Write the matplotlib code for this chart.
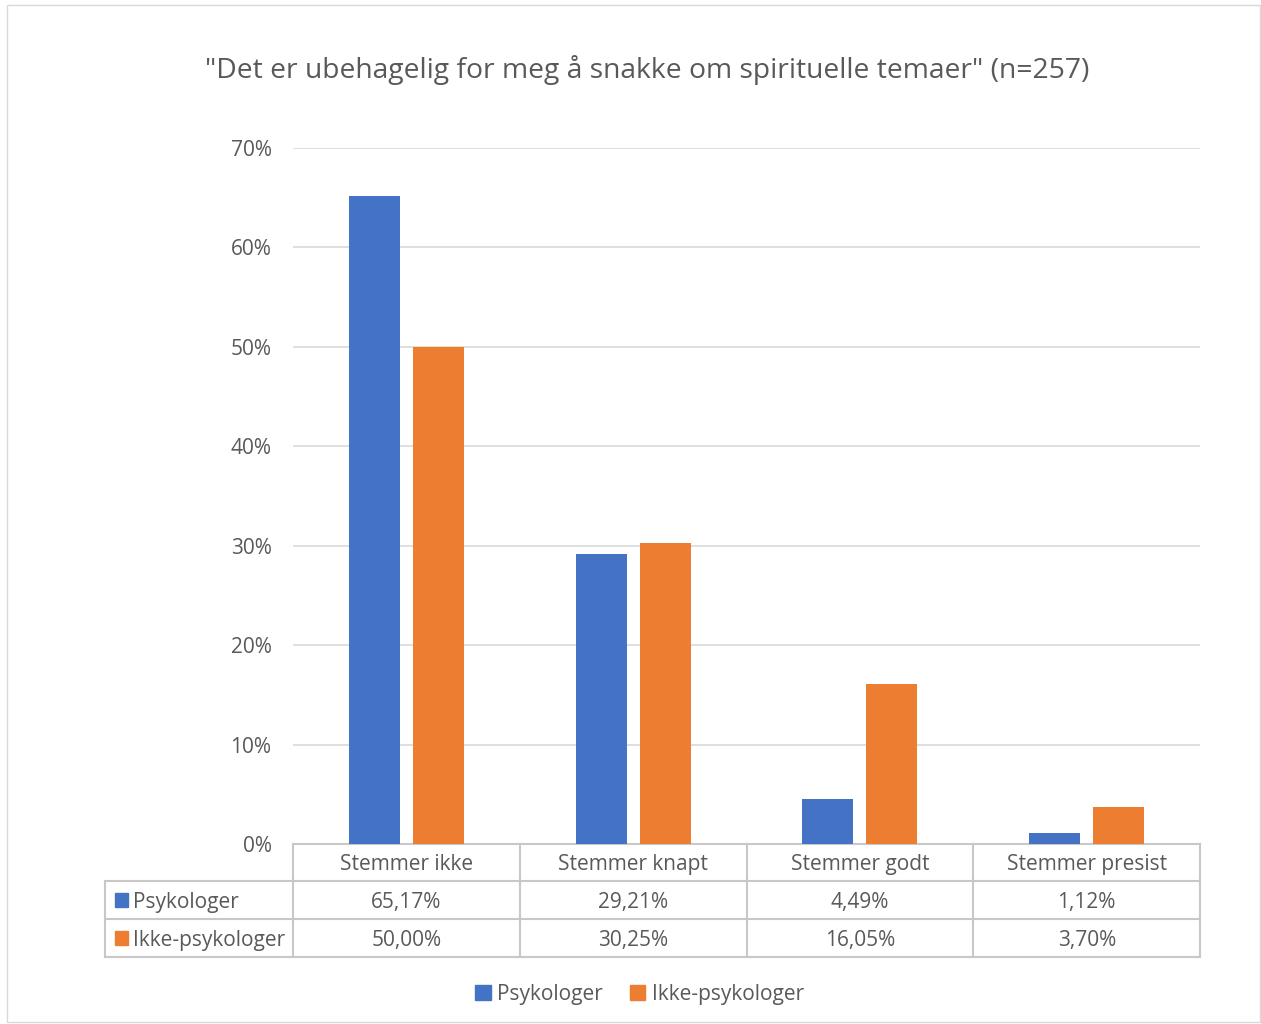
import matplotlib.pyplot as plt
import numpy as np
from matplotlib.lines import Line2D
from matplotlib.patches import Rectangle
from matplotlib.transforms import blended_transform_factory

plt.rcParams["font.family"] = ["Open Sans", "DejaVu Sans"]

CATEGORIES = ["Stemmer ikke", "Stemmer knapt", "Stemmer godt", "Stemmer presist"]
SERIES = ["Psykologer", "Ikke-psykologer"]
PSYK = [65.17, 29.21, 4.49, 1.12]
IKKE = [50.00, 30.25, 16.05, 3.70]
YTICKS = [0, 10, 20, 30, 40, 50, 60, 70]
COLORS = ["#4472C4", "#ED7D31"]
TXT = "#595959"
GRID = "#D9D9D9"
LINE = "#C8C8C8"

fig = plt.figure(figsize=(12.61, 10.24), dpi=100)
fig.add_artist(Rectangle((0.0055, 0.002), 0.9935, 0.993, transform=fig.transFigure,
                         fill=False, edgecolor="#D9D9D9", linewidth=1))

ax = fig.add_axes([0.2324, 0.1758, 0.7193, 0.6797])
x = np.arange(len(CATEGORIES))
w = 0.225
off = 0.141
ax.bar(x - off, PSYK, w, color=COLORS[0], zorder=3)
ax.bar(x + off, IKKE, w, color=COLORS[1], zorder=3)

ax.set_xlim(-0.5, len(CATEGORIES) - 0.5)
ax.set_ylim(0, 70)
ax.set_yticks(YTICKS)
ax.set_yticklabels([f"{t}%" for t in YTICKS], color=TXT, fontsize=15)
ax.tick_params(axis="y", length=0, pad=15.5)
ax.set_xticks([])
ax.grid(axis="y", color=GRID, linewidth=1.2, zorder=0)
for s in ax.spines.values():
    s.set_visible(False)

fig.text(0.513, 0.932, '"Det er ubehagelig for meg å snakke om spirituelle temaer" (n=257)',
         ha="center", va="center", fontsize=20.3, color=TXT)

# data table under the axis
tr = blended_transform_factory(ax.transData, ax.transAxes)
rows = [0.0, -0.0532, -0.1078, -0.1624]
left = -1.329
lkw = dict(color=LINE, linewidth=1.5, transform=tr, clip_on=False)
ax.add_line(Line2D([-0.5, 3.5], [rows[0]] * 2, **lkw))
for r in rows[1:]:
    ax.add_line(Line2D([left, 3.5], [r, r], **lkw))
ax.add_line(Line2D([left, left], [rows[1], rows[3]], **lkw))
for b in np.arange(len(CATEGORIES) + 1) - 0.5:
    ax.add_line(Line2D([b, b], [rows[0], rows[3]], **lkw))

dy = -0.003
for i, c in enumerate(CATEGORIES):
    ax.text(i, (rows[0] + rows[1]) / 2 + dy, c, transform=tr, ha="center", va="center",
            fontsize=15, color=TXT)
    for j, vals in enumerate([PSYK, IKKE]):
        ax.text(i, (rows[j + 1] + rows[j + 2]) / 2 + dy, f"{vals[i]:.2f}%".replace(".", ","),
                transform=tr, ha="center", va="center", fontsize=15, color=TXT)

for j, name in enumerate(SERIES):
    yc = (rows[j + 1] + rows[j + 2]) / 2
    ax.add_patch(Rectangle((left + 0.045, yc - 0.0095), 0.058, 0.019, transform=tr,
                           color=COLORS[j], clip_on=False))
    ax.text(left + 0.125, yc + dy, name, transform=tr, ha="left", va="center",
            fontsize=15, color=TXT)

handles = [Rectangle((0, 0), 1, 1, color=c) for c in COLORS]
fig.legend(handles, SERIES, loc="center", bbox_to_anchor=(0.507, 0.029), ncol=2,
           frameon=False, fontsize=15, labelcolor=TXT, handlelength=0.75,
           handleheight=0.75, handletextpad=0.3, columnspacing=1.3)

fig.savefig("out.png", dpi=100)
